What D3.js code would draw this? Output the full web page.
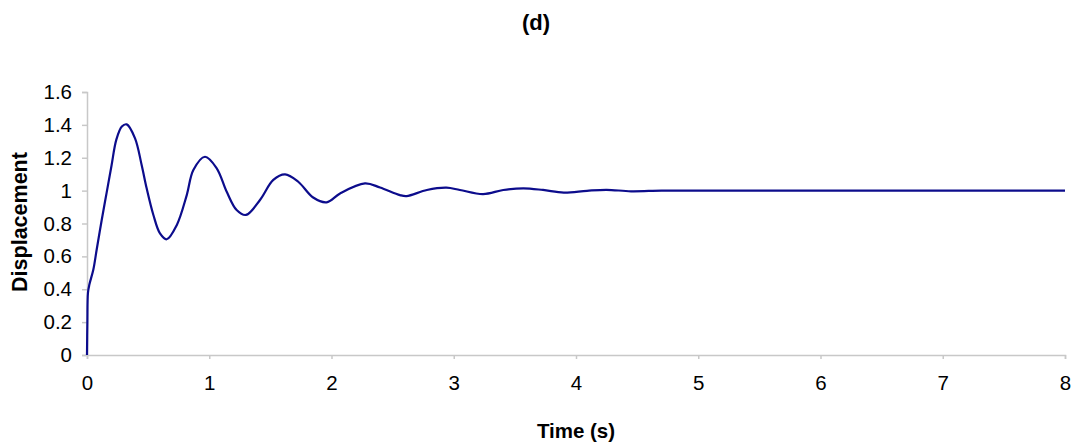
<!DOCTYPE html>
<html>
<head>
<meta charset="utf-8">
<script src="https://cdn.jsdelivr.net/npm/d3@7"></script>
<style>
  body { margin: 0; background: #fff; }
  text { font-family: "Liberation Sans", Arial, sans-serif; fill: #000; }
</style>
</head>
<body>
<script>
// values
const time = [0, 0.003, 0.008, 0.02, 0.052, 0.079, 0.12, 0.16, 0.20, 0.24, 0.285, 0.325,
  0.393, 0.447, 0.488, 0.543, 0.597, 0.652, 0.734, 0.816, 0.87, 0.965, 1.061, 1.143, 1.224,
  1.30, 1.415, 1.524, 1.62, 1.728, 1.85, 1.96, 2.07, 2.274, 2.397, 2.56, 2.614, 2.78,
  2.94, 3.05, 3.24, 3.405, 3.57, 3.73, 3.90, 4.09, 4.25, 4.45, 4.7, 5, 6, 7, 8];
const displacement = [0, 0.2, 0.38, 0.43, 0.52, 0.64, 0.82, 0.985, 1.15, 1.31, 1.39, 1.403,
  1.318, 1.156, 1.014, 0.852, 0.74, 0.704, 0.79, 0.973, 1.125, 1.206, 1.136, 0.993, 0.882,
  0.852, 0.943, 1.065, 1.099, 1.054, 0.958, 0.929, 0.983, 1.044, 1.019, 0.973, 0.967, 1.004,
  1.018, 1.004, 0.979, 1.004, 1.014, 1.004, 0.988, 0.999, 1.005, 0.996, 1.0, 1.0, 1.0, 1.0, 1.0];
const xTicks = [0, 1, 2, 3, 4, 5, 6, 7, 8];
const yTicks = [0, 0.2, 0.4, 0.6, 0.8, 1, 1.2, 1.4, 1.6];

const W = 1073, H = 446;
const margin = {top: 92, right: 8, bottom: 91, left: 87};
const width = W - margin.left - margin.right,
  height = H - margin.top - margin.bottom;

const data = time.map((t, i) => ({t: t, v: displacement[i]}));

const svg = d3.select("body").append("svg")
  .attr("width", W)
  .attr("height", H);

const g = svg.append("g")
  .attr("transform", `translate(${margin.left},${margin.top})`);

const x = d3.scaleLinear().domain([0, 8]).range([0, width]);
const y = d3.scaleLinear().domain([0, 1.6]).range([height, 0]);

const xAxis = g.append("g")
  .attr("transform", `translate(0,${height})`)
  .call(d3.axisBottom(x).tickValues(xTicks).tickSize(4).tickPadding(16).tickFormat(d3.format("d")));

const yAxis = g.append("g")
  .call(d3.axisLeft(y).tickValues(yTicks).tickSize(5).tickPadding(10).tickFormat(d => d3.format("")(+d.toFixed(1))));

[xAxis, yAxis].forEach(a => {
  a.select(".domain").attr("stroke", "#c8c8c8").attr("stroke-width", 1.5);
  a.selectAll(".tick line").attr("stroke", "#c8c8c8").attr("stroke-width", 1.5);
  a.selectAll(".tick text")
    .attr("font-family", "Liberation Sans, Arial, sans-serif")
    .attr("font-size", 20.5)
    .attr("fill", "#000");
});

g.append("path")
  .datum(data)
  .attr("fill", "none")
  .attr("stroke", "#0c0c8c")
  .attr("stroke-width", 2.2)
  .attr("stroke-linejoin", "round")
  .attr("d", d3.line()
    .x(d => x(d.t))
    .y(d => y(d.v))
    .curve(d3.curveCatmullRom.alpha(0.5)));

svg.append("text")
  .attr("x", 536)
  .attr("y", 30)
  .attr("text-anchor", "middle")
  .attr("font-size", 22)
  .attr("font-weight", "bold")
  .text("(d)");

svg.append("text")
  .attr("x", 576)
  .attr("y", 438)
  .attr("text-anchor", "middle")
  .attr("font-size", 20.5)
  .attr("font-weight", "bold")
  .text("Time (s)");

svg.append("text")
  .attr("transform", "translate(27,222) rotate(-90)")
  .attr("text-anchor", "middle")
  .attr("font-size", 21.5)
  .attr("font-weight", "bold")
  .text("Displacement");
</script>
</body>
</html>
